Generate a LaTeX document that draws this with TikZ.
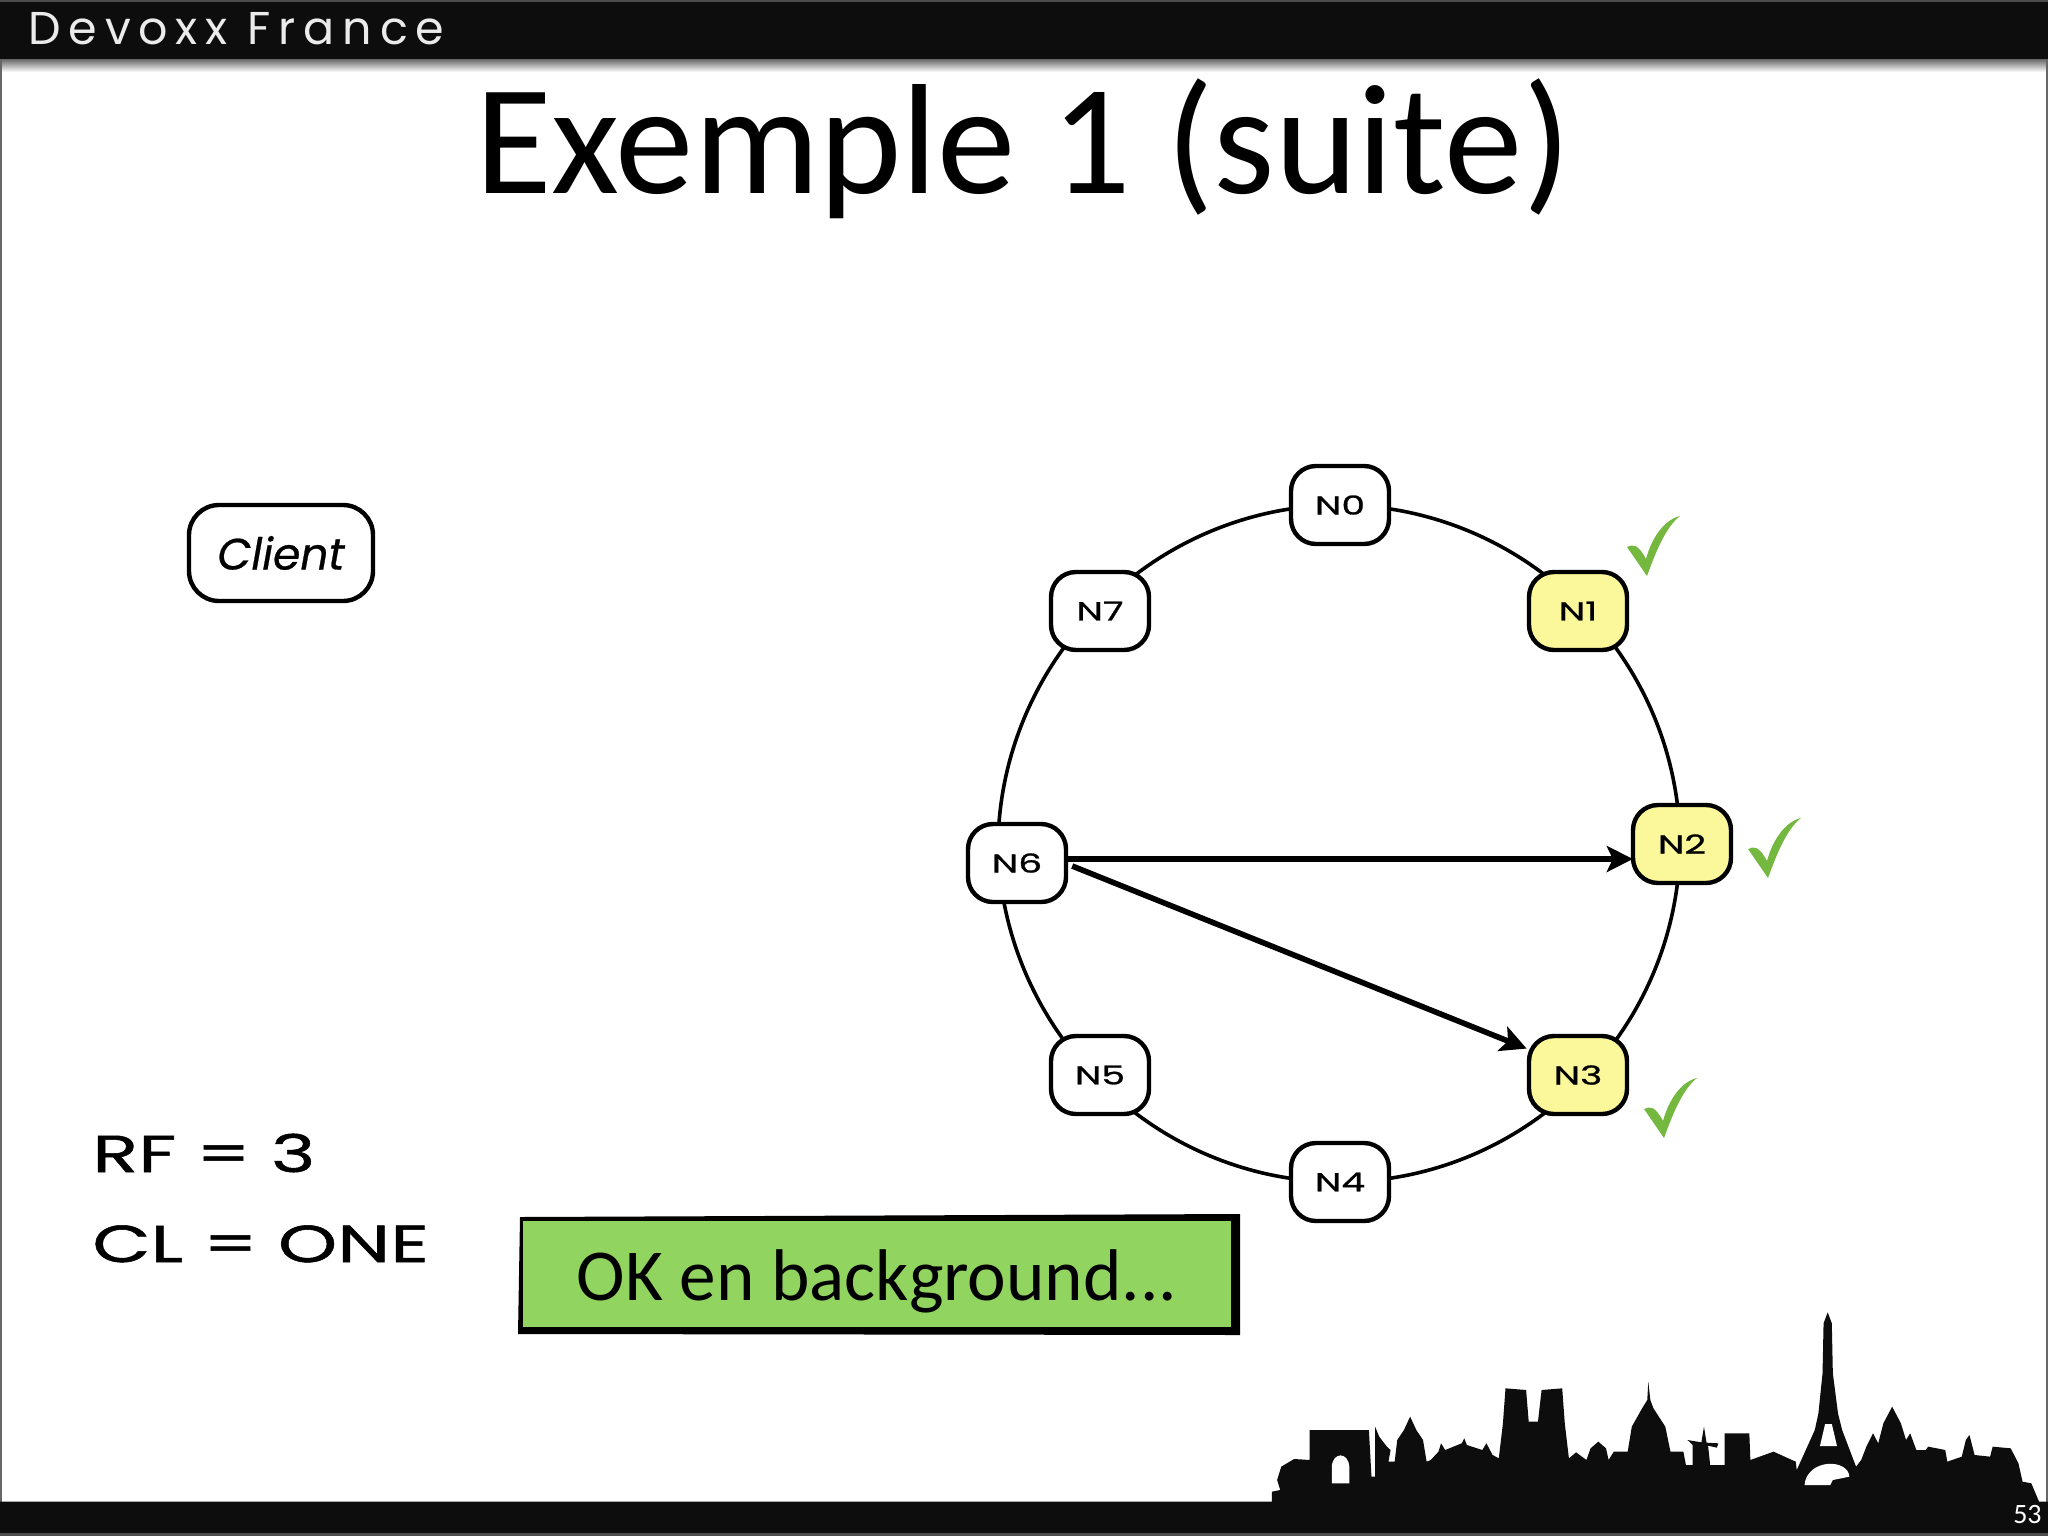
\documentclass[tikz,border=0pt]{standalone}
\usepackage{fontspec}
\usetikzlibrary{arrows.meta,backgrounds}
\setmainfont{Carlito}
\newfontfamily\handfont[FakeStretch=1.45,FakeBold=1]{Poppins}
\newfontfamily\clientfont[FakeBold=0.6]{Poppins}
\newfontfamily\headfont[LetterSpace=17]{Poppins}
\definecolor{nodeyellow}{HTML}{FBF79B}
\definecolor{boxgreen}{HTML}{92D460}
\definecolor{tickgreen}{HTML}{74B83F}
\begin{document}
\begin{tikzpicture}[x=0.5pt,y=-0.5pt,
		ringnode/.style={draw=black,line width=2.2pt,fill=white,rounded corners=12.5pt,minimum width=49pt,minimum height=39pt,inner sep=0pt,font=\handfont\fontsize{13}{13}\selectfont},
		replica/.style={ringnode,fill=nodeyellow},
		ringline/.style={line width=1.8pt,looseness=0.885},
		sendline/.style={line width=2.8pt,-{Stealth[length=13pt,width=13pt,inset=3pt]},shorten >=-1pt},
		notelabel/.style={anchor=base west,inner sep=0pt,font=\handfont\fontsize{26}{26}\selectfont}]
	\useasboundingbox (0,0) rectangle (2048,1536);
	
	% Bandeau du haut
	\fill[black!95] (0,0) rectangle (2048,60);
	\fill[black!70] (0,0) rectangle (2048,2);
	\shade[top color=black!55,bottom color=white] (0,60) rectangle (2048,72);
	\node[anchor=base west,inner sep=0pt,text=black!8,font=\headfont\fontsize{23}{23}\selectfont] (header) at (28,45) {Devoxx France};
	
	% Bords de la page
	\draw[black!60,line width=0.75pt] (1,60) -- (1,1503);
	\draw[black!60,line width=0.75pt] (2047,60) -- (2047,1503);
	
	% Titre
	\node[anchor=base,inner sep=0pt,font=\fontsize{78.5}{78.5}\selectfont] (title) at (1023,193) {Exemple 1 (suite)};
	
	% Les noeuds
	\node[ringnode,rounded corners=15pt,minimum width=92pt,minimum height=48pt,font=\clientfont\itshape\fontsize{22}{22}\selectfont] (client) at (281,553) {Client};
	\node[ringnode] (n0) at (1340,505) {N0};
	\node[replica] (n1) at (1578,611) {N1};
	\node[replica] (n2) at (1682,844) {N2};
	\node[replica] (n3) at (1578,1075) {N3};
	\node[ringnode] (n4) at (1340,1182) {N4};
	\node[ringnode] (n5) at (1100,1075) {N5};
	\node[ringnode] (n6) at (1017,863) {N6};
	\node[ringnode] (n7) at (1100,611) {N7};
	
	% Les points de l'anneau
	\coordinate (r0) at (n0.center);
	\coordinate (r1) at ([xshift=0.5pt,yshift=3pt]n1.center);
	\coordinate (r2) at ([xshift=-1pt]n2.center);
	\coordinate (r3) at ([xshift=0.5pt,yshift=-4pt]n3.center);
	\coordinate (r4) at (n4.center);
	\coordinate (r5) at ([xshift=0.5pt,yshift=-4pt]n5.center);
	\coordinate (r6) at ([xshift=-9.5pt,yshift=9.5pt]n6.center);
	\coordinate (r7) at ([xshift=0.5pt,yshift=3pt]n7.center);
	
	% L'anneau, sous les noeuds
	\begin{scope}[on background layer]
		\fill[white] (0,0) rectangle (2048,1536);
		\foreach \a/\b in {r0/r1,r1/r2,r2/r3,r3/r4,r4/r5,r5/r6,r6/r7,r7/r0}
		{
			\draw[ringline] (\a) to[bend left=22.5] (\b);
		}
	\end{scope}
	
	% Les ecritures
	\draw[sendline] ([yshift=2pt]n6.east) -- ([yshift=-7.5pt]n2.west);
	\draw[sendline] ([xshift=2pt,yshift=-1.5pt]n6.east) -- ([xshift=-1pt,yshift=-7pt]n3.north west);
	
	% Les coches
	\foreach \x/\y in {1647/576,1768/878,1664/1138}
	{
		\fill[tickgreen,shift={(\x,\y)}] (0,0) -- (-20,-29) .. controls (-14,-32) and (-9,-32) .. (-1,-17) .. controls (4,-36) and (16,-56) .. (33,-60) .. controls (20,-50) and (10,-28) .. (0,0) -- cycle;
	}
	
	% Les reglages
	\node[notelabel] (rf) at (92,1172) {RF = 3};
	\node[notelabel] (cl) at (92,1262) {CL = ONE};
	
	% Le message
	\fill[black] (520,1217) -- (1240,1214) -- (1240,1335) -- (518,1334) -- cycle;
	\node[fill=boxgreen,minimum width=354pt,minimum height=53pt,inner sep=0pt,outer sep=0pt,text height=30pt,text depth=4pt,font=\fontsize{36.6}{36.6}\selectfont] (okbox) at (877,1274) {OK en background...};
	
	% Paris
	\begin{scope}[shift={(1240,1280)},xscale=0.5155,yscale=0.3333]
		\fill[black!95] (-2410,665) -- (62,665) -- (62,635) -- (78,630) -- (72,600) -- (80,560) -- (105,537) -- (135,540) -- (135,450) -- (250,450) -- (255,590) -- (262,590) -- (262,440) -- (270,470) -- (285,500) -- (292,510) -- (288,545) -- (300,545) -- (305,480) -- (318,450) -- (330,410) -- (342,450) -- (355,480) -- (362,545) -- (370,540) -- (385,515) -- (390,490) -- (398,510) -- (430,490) -- (435,475) -- (440,495) -- (470,510) -- (478,490) -- (490,525) -- (502,535) -- (510,430) -- (515,325) -- (555,330) -- (560,425) -- (578,425) -- (585,330) -- (625,325) -- (630,430) -- (638,535) -- (652,517) -- (672,540) -- (680,505) -- (695,485) -- (710,505) -- (715,540) -- (725,515) -- (752,515) -- (760,440) -- (780,385) -- (790,360) -- (792,305) -- (796,360) -- (802,385) -- (825,440) -- (835,515) -- (860,515) -- (865,555) -- (878,555) -- (878,495) -- (868,480) -- (895,487) -- (900,440) -- (905,488) -- (928,490) -- (925,503) -- (908,497) -- (912,555) -- (940,555) -- (940,460) -- (988,460) -- (990,540) -- (1035,515) -- (1078,545) -- (1080,570) -- (1115,450) -- (1122,400) -- (1130,280) -- (1132,130) -- (1140,97) -- (1148,130) -- (1150,280) -- (1160,400) -- (1168,450) -- (1195,560) -- (1205,540) -- (1215,500) -- (1228,460) -- (1238,490) -- (1248,430) -- (1265,380) -- (1282,430) -- (1292,480) -- (1300,460) -- (1312,510) -- (1330,510) -- (1335,500) -- (1368,510) -- (1372,545) -- (1400,530) -- (1408,480) -- (1415,465) -- (1425,525) -- (1455,530) -- (1460,500) -- (1495,505) -- (1510,550) -- (1518,605) -- (1535,610) -- (1550,665) -- (1568,665) -- (1568,760) -- (-2410,760) -- cycle;
		\fill[white] (178,610) -- (178,560) .. controls (180,515) and (210,515) .. (212,560) -- (212,610) -- cycle;
		\fill[white] (1125,498) -- (1135,432) -- (1148,432) -- (1158,498) -- cycle;
		\fill[white] (1095,615) .. controls (1100,535) and (1180,535) .. (1182,590) -- (1150,600) -- (1145,615) -- cycle;
	\end{scope}
	\fill[black!70] (0,1533) rectangle (2048,1536);
	\node[anchor=base east,inner sep=0pt,text=white,font=\fontsize{14}{14}\selectfont] (pagenum) at (2042,1523) {53};
\end{tikzpicture}
\end{document}
